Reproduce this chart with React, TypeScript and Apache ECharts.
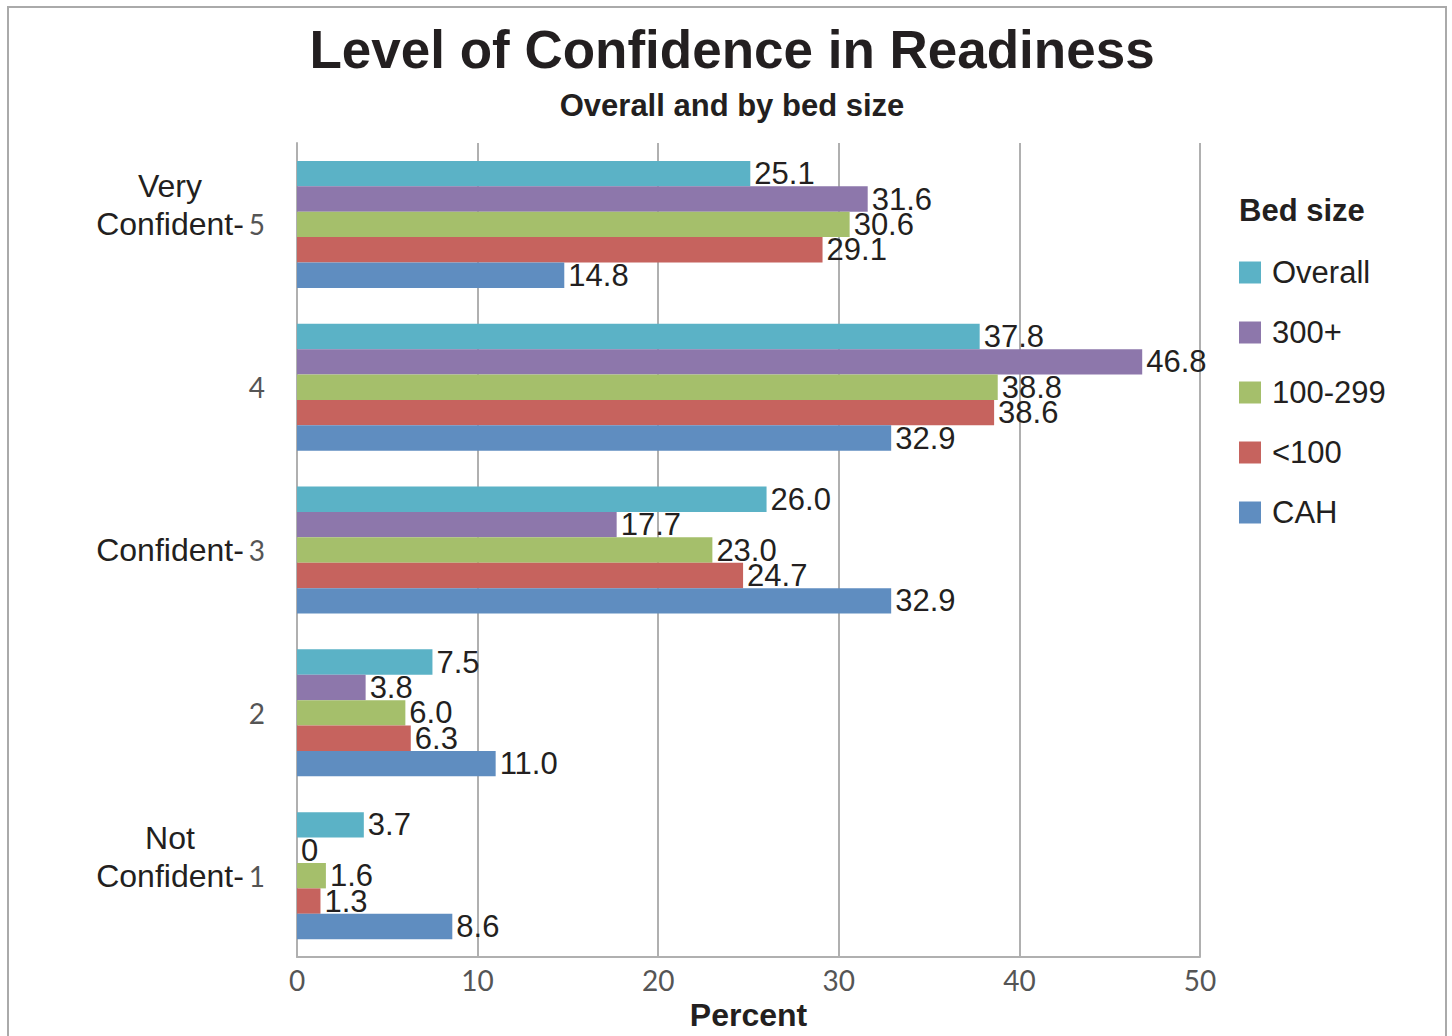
import React, { useEffect, useRef } from "react";
import * as echarts from "echarts";

const categories = ["Very Confident-5", "4", "Confident-3", "2", "Not Confident-1"];
const seriesNames = ["Overall", "300+", "100-299", "<100", "CAH"];
const overall = [25.1, 37.8, 26.0, 7.5, 3.7];
const beds300plus = [31.6, 46.8, 17.7, 3.8, 0];
const beds100to299 = [30.6, 38.8, 23.0, 6.0, 1.6];
const bedsUnder100 = [29.1, 38.6, 24.7, 6.3, 1.3];
const cah = [14.8, 32.9, 32.9, 11.0, 8.6];
const seriesValues = [overall, beds300plus, beds100to299, bedsUnder100, cah];
const colors = ["#5bb2c6", "#8d77ab", "#a5bf6b", "#c6635e", "#5f8dc0"];
const xTicks = { min: 0, max: 50, interval: 10 };

const MAIN = "'Liberation Sans', Arial, Helvetica, sans-serif";
const NUM = "Lato, 'Open Sans', sans-serif";
const DARK = "#231f20";

function catLabel(v: string): string {
  const digit = v.slice(-1);
  const rest = v.slice(0, -1);
  if (!rest) return `{n|${digit}}`;
  const sp = rest.lastIndexOf(" ");
  if (sp >= 0) {
    const top = rest.slice(0, sp);
    const main = rest.slice(sp + 1);
    return `{c|${top}}{g| }\n{c|${main}}{n|${digit}}\n{c| }{g| }`;
  }
  return `{c|${rest}}{n|${digit}}`;
}

export default function App() {
  const ref = useRef<HTMLDivElement>(null);
  useEffect(() => {
    document.body.style.margin = "0";
    if (!ref.current) return;
    const chart = echarts.init(ref.current, undefined, { renderer: "svg" });
    chart.setOption({
      animation: false,
      backgroundColor: "#ffffff",
      title: {
        text: "Level of Confidence in Readiness",
        subtext: "Overall and by bed size",
        left: 727,
        textAlign: "center",
        top: 18,
        itemGap: 14,
        textStyle: { fontFamily: MAIN, fontWeight: "bold", fontSize: 53, color: DARK },
        subtextStyle: { fontFamily: MAIN, fontWeight: "bold", fontSize: 31, color: DARK },
      },
      legend: {
        orient: "vertical",
        left: 1239,
        top: 257,
        padding: 0,
        icon: "rect",
        itemWidth: 22,
        itemHeight: 22,
        itemGap: 29,
        data: seriesNames,
        textStyle: { fontFamily: MAIN, fontSize: 31, color: DARK, padding: [0, 0, 0, 6] },
      },
      graphic: [
        {
          type: "rect",
          shape: { x: 8, y: 7, width: 1438, height: 1045 },
          style: { fill: "none", stroke: "#aaaaaa", lineWidth: 2 },
          silent: true,
        },
        {
          type: "text",
          left: 1239,
          top: 195,
          style: { text: "Bed size", font: `bold 31px ${MAIN}`, fill: DARK },
        },
      ],
      grid: { left: 297, right: 252, top: 143, bottom: 73, containLabel: false },
      xAxis: {
        type: "value",
        min: xTicks.min,
        max: xTicks.max,
        interval: xTicks.interval,
        name: "Percent",
        nameLocation: "middle",
        nameGap: 39,
        nameTextStyle: { fontFamily: MAIN, fontWeight: "bold", fontSize: 32, color: DARK },
        axisLine: { show: true, lineStyle: { color: "#b0b0b0", width: 2 } },
        axisTick: { show: false },
        splitLine: { show: true, lineStyle: { color: "#b0b0b0", width: 2 } },
        axisLabel: { fontFamily: NUM, fontSize: 28, color: "#555555", margin: 9 },
      },
      yAxis: {
        type: "category",
        inverse: true,
        data: categories,
        axisLine: { show: true, lineStyle: { color: "#b0b0b0", width: 2 } },
        axisTick: { show: false },
        axisLabel: {
          margin: 32,
          formatter: (v: string) => catLabel(v),
          rich: {
            c: { fontFamily: MAIN, fontSize: 32, color: DARK, width: 150, align: "center", lineHeight: 38 },
            g: { fontSize: 30, width: 20, lineHeight: 38 },
            n: { fontFamily: NUM, fontSize: 28, color: "#555555", width: 20, align: "right", lineHeight: 38 },
          },
        },
      },
      series: seriesNames.map((name, i) => ({
        name,
        type: "bar",
        data: seriesValues[i],
        barGap: "0%",
        barCategoryGap: "22%",
        itemStyle: { color: colors[i] },
        label: {
          show: true,
          position: "right",
          distance: 4,
          fontFamily: MAIN,
          fontSize: 31,
          color: DARK,
          formatter: (p: any) => (p.value === 0 ? "0" : Number(p.value).toFixed(1)),
        },
      })),
    });
    return () => chart.dispose();
  }, []);
  return <div ref={ref} style={{ width: 1452, height: 1036 }} />;
}
